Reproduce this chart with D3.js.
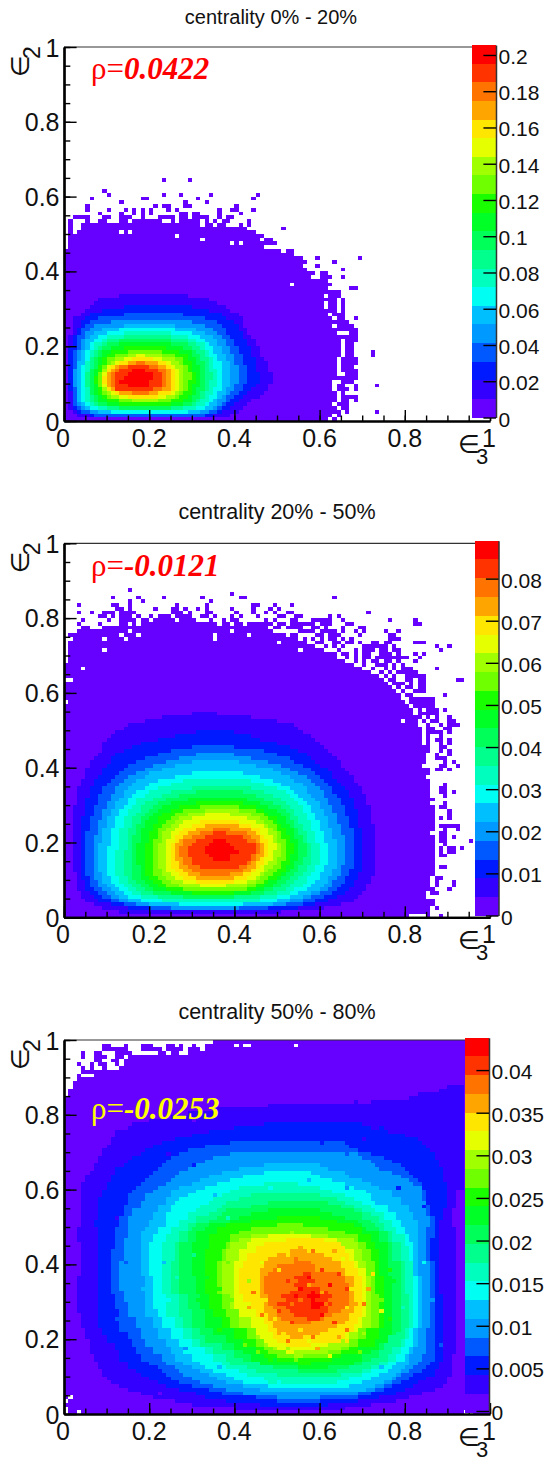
<!DOCTYPE html>
<html><head><meta charset="utf-8">
<script src="https://cdn.jsdelivr.net/npm/d3@7"></script>
<style>html,body{margin:0;padding:0;background:#fff}svg{display:block}text{font-family:"Liberation Sans",Arial,sans-serif;fill:#111}</style>
</head><body><svg id="c" width="547" height="1459"></svg>
<script>
const titles=["centrality 0% - 20%","centrality 20% - 50%","centrality 50% - 80%"];
const rhoValues=["0.0422","-0.0121","-0.0253"];
const rhoColors=["#ff0000","#ff0000","#ffff00"];
const axisTicks=[0,0.2,0.4,0.6,0.8,1];
const paletteColors=["#6600ff","#3300ff","#001aff","#0059ff","#0099ff","#00bfff","#00fff2","#00ffbf","#00ff8c","#00ff59","#00ff26","#19ff00","#70ff00","#a0ff00","#e6ff00","#ffe600","#ffa500","#ff7300","#ff3300","#ff0000"];
const barMax=[0.2055,0.089,0.0438];
const barTicks1=[0,0.02,0.04,0.06,0.08,0.1,0.12,0.14,0.16,0.18,0.2];
const barTicks2=[0,0.01,0.02,0.03,0.04,0.05,0.06,0.07,0.08];
const barTicks3=[0,0.005,0.01,0.015,0.02,0.025,0.03,0.035,0.04];
// level spans per panel: "row:left-right", each held up to the next entry's row
const panel1Spans=[
"0:0-62 7:0-63 11:0-64 25:0-62 27:0-61 30:0-60 32:0-59 33:0-60 35:0-59 36:0-57 38:0-55 39:0-54 40:0-53 42:0-52 43:0-50 44:0-49 45:0-48 46:1-47 47:1-46 48:2-44 49:2-42 50:3-39 51:5-36 52:7-30 53:",
"1:3-39 2:2-41 3:1-42 4:1-43 5:1-44 6:1-46 7:1-47 8:1-48 10:1-49 13:1-48 16:1-47 17:1-46 20:1-45 22:1-44 23:2-43 25:2-42 28:4-41 29:5-39 30:6-38 31:7-36 32:8-34 33:13-29 34:",
"1:6-35 2:3-37 3:2-39 4:2-40 5:2-41 6:2-42 7:2-43 8:1-44 9:1-45 10:1-46 13:1-45 17:1-44 20:2-43 22:2-42 23:3-42 24:3-41 25:4-41 26:4-40 27:5-38 28:6-37 29:9-34 30:14-30 31:",
"1:7-33 2:4-36 3:3-37 4:2-38 5:2-39 6:2-40 7:2-41 8:2-42 10:2-43 15:2-42 18:2-41 19:3-41 20:3-40 22:3-39 23:4-38 25:5-37 26:6-36 27:8-33 28:14-28 29:",
"2:6-34 3:4-36 4:3-37 5:3-38 7:3-39 8:3-40 9:2-40 10:2-41 14:3-41 15:3-40 18:3-39 19:4-39 20:4-38 22:5-37 23:5-36 24:6-35 25:7-33 26:11-30 27:",
"2:8-32 3:5-35 4:4-36 5:3-36 6:3-37 7:3-38 9:3-39 16:4-38 18:4-37 19:5-37 20:5-36 22:6-35 23:7-33 24:9-31 25:14-26 26:",
"2:11-29 3:6-33 4:5-34 5:4-35 6:4-36 8:4-37 15:5-37 16:5-36 18:5-35 19:6-35 20:6-34 21:7-33 22:8-32 23:10-30 24:13-26 25:",
"3:8-31 4:6-33 5:5-34 7:5-35 9:5-36 14:5-35 16:6-35 17:6-34 19:7-33 21:9-31 22:10-29 23:14-25 24:",
"3:10-28 4:7-31 5:6-32 6:6-33 8:6-34 9:5-34 11:5-35 13:6-34 17:7-33 19:8-32 20:9-31 21:10-29 22:14-25 23:",
"3:13-25 4:8-30 5:7-31 6:7-32 7:6-32 8:6-33 14:7-33 16:7-32 17:8-32 18:8-31 19:9-30 20:10-29 21:13-25 22:",
"4:10-28 5:8-30 7:7-31 9:7-32 14:8-32 15:8-31 17:9-30 19:11-28 20:13-25 21:",
"4:13-25 5:10-28 6:9-29 7:8-30 10:7-31 12:8-31 13:8-30 15:9-30 16:9-29 17:10-29 18:11-27 19:14-24 20:",
"5:13-25 6:10-27 7:9-28 8:9-29 9:8-29 11:8-30 13:9-29 15:10-28 17:12-26 18:15-23 19:",
"5:16-22 6:11-26 7:10-27 8:9-28 14:10-28 15:11-27 16:12-26 17:15-23 18:",
"6:13-24 7:11-26 8:10-27 9:9-27 13:10-27 14:10-26 15:12-25 16:14-23 17:17-19 18:",
"6:15-22 7:12-25 8:10-26 10:9-26 12:10-26 14:11-25 15:13-24 16:16-21 17:",
"7:13-22 8:11-25 9:10-25 13:11-25 14:12-24 15:15-22 16:",
"7:16-20 8:12-23 9:11-24 13:12-24 14:13-22 15:17-19 16:",
"8:12-21 9:12-23 13:13-22 14:15-20 15:",
"9:15-20 10:13-20 11:14-21 12:15-21 13:16-19 14:"];
const panel1Strays=["64:23,29","61:9","60:10,23,27,34,45","59:6,18,19,31,44","58:13,28,33","57:5,21,23,24,28,29,40","56:5,10,14,16,18,20,24,26,36,39,40,44","55:8,13,16,18,20,27,28,30,31,36,41","54:2,3,4,5,9,10,13,14,15,18,22,23,24,25,27,28,30,31,32,33,36,38,39","53:1,5,8,9,13,14,16,17,18,19,20,21,22,25,27,28,29,30,31,33,35,37,38,43","52:1,4,5,6,30,31,33,34,36,37,41,43","51:1,4,36,37,38,39,40,41,42,51","50:1,3,39,40,41,42,43,44","49:1,3,42,43,44,45,46","48:1,44,45,47,48","47:1,2,46,47,48,49","45:48,49,50,52,53","44:49,50,51,52,53","43:50,51,52,53,54,55,59,69","42:52,53,54,55,56,63","41:53,54,55,59","40:53,54,55,56,65","39:54,55,56,57,58,60,61","38:55,56,57,60,61,62,65","37:57,58,59,60,61","36:57,58,59,60,61,62","35:59,60,61,67,68","34:60,61,62,63,64","33:60,62,63,64","32:59,60,61,62,63,65","31:60,61,62,63,65","30:60,62,63,65","29:61,62,63,65","28:61,63,64,65","27:61,62,64,65,68","26:62,63,64,65,66","25:62,64,65,66,67","24:62,64,65,66,67,68","23:62,63,67,68","22:64,65,66,67,68","21:64,66,67,68","20:64,66,67","19:64,66,67","18:64,66,67,72","17:64,66,67,72","16:65,66,67,68","15:65,66,67,68","14:65,66,67","13:65,66,67,68","12:66,67,68","11:64,65,66,67,68","10:65,66,67","9:64,65,68,73","8:64,65,66,68","7:63,65","6:62,63,65,66,67,68","5:62,63,65,66,68","4:62,64,65,66","3:62,63,65,66","2:62,63,64,66,73","1:62,64","0:63"];
const panel1Holes=["36:53","50:13,15","49:26","48:32","47:39,41","31:61"];
const panel2Spans=[
"0:0-81 1:0-85 7:0-86 11:0-87 15:0-87 25:0-87 32:0-86 40:0-85 46:0-84 51:0-83 54:0-82 56:0-81 57:0-80 58:0-79 60:0-78 61:0-77 62:0-76 63:0-75 64:0-74 65:0-72 66:0-70 67:0-68 68:0-66 69:0-64 70:1-63 71:1-61 72:1-59 73:3-57 74:4-55 75:4-52 76:4-49 77:9-42 78:18-36 79:",
"1:13-51 2:9-61 3:7-65 4:5-68 5:4-69 6:4-70 7:3-71 9:3-72 11:3-73 12:2-73 25:2-72 30:3-71 33:3-70 35:4-69 36:4-68 37:5-68 38:5-67 39:5-66 40:6-65 42:7-64 43:8-63 44:9-62 45:9-61 46:9-60 47:10-59 48:11-58 49:12-56 50:14-55 51:15-54 52:19-50 53:23-44 54:30-36 55:",
"2:15-55 3:11-59 4:8-62 5:7-64 6:6-66 7:5-67 8:5-68 10:4-69 12:4-70 24:4-69 27:5-69 29:5-68 32:6-67 34:6-66 35:7-65 36:7-64 37:8-63 38:9-63 39:9-62 40:10-60 41:11-59 42:11-58 43:12-57 44:14-55 45:16-53 46:18-50 47:22-46 48:26-44 49:31-40 50:",
"2:20-48 3:14-56 4:11-59 5:9-61 6:8-63 7:7-64 8:6-65 9:6-66 11:5-67 13:5-68 23:6-68 24:6-67 27:7-66 30:8-65 32:8-64 33:9-63 35:10-62 36:11-61 37:12-60 38:13-59 39:14-58 40:15-56 41:17-54 42:19-53 43:22-50 44:25-47 45:30-40 46:",
"2:25-41 3:17-52 4:13-56 5:11-58 6:10-60 7:9-62 8:8-63 10:7-64 11:7-65 14:7-66 22:8-65 25:8-64 26:9-64 28:9-63 29:10-63 30:10-62 31:11-62 32:11-61 33:12-61 34:12-60 35:13-59 36:14-58 37:15-57 38:17-55 39:19-53 40:21-51 41:24-48 42:27-44 43:31-40 44:",
"3:20-49 4:15-53 5:13-56 6:12-58 7:11-60 8:10-61 9:9-62 11:9-63 12:8-63 13:8-64 20:9-64 21:9-63 24:10-62 27:11-61 29:12-60 31:13-59 32:14-58 33:14-57 34:15-57 35:16-56 36:17-54 37:19-53 38:20-51 39:23-49 40:26-45 41:30-41 42:",
"3:27-42 4:18-50 5:15-53 6:14-55 7:13-57 8:12-58 9:11-59 10:11-60 11:10-60 12:10-61 14:10-62 19:11-62 20:11-61 23:11-60 24:12-60 26:12-59 27:13-59 28:13-58 29:14-58 30:15-57 31:15-56 32:16-55 33:17-54 34:19-53 35:20-51 36:22-49 37:26-46 38:30-42 39:",
"4:23-46 5:18-50 6:16-53 7:15-54 8:14-56 9:13-57 11:12-58 12:12-59 14:12-60 18:13-60 20:13-59 23:13-58 24:14-58 26:14-57 27:15-57 28:15-56 29:16-56 30:17-55 31:17-54 32:19-53 33:20-52 34:22-50 35:25-47 36:28-44 37:",
"5:22-46 6:18-50 7:17-52 8:16-53 9:15-54 10:15-55 11:14-56 12:14-57 14:14-58 18:15-58 20:15-57 23:15-56 24:16-56 25:16-55 27:17-54 28:18-54 29:18-53 30:19-52 31:21-51 32:23-49 33:25-47 34:30-44 35:",
"5:28-40 6:21-47 7:19-49 8:18-51 9:17-52 10:16-53 11:16-54 12:16-55 14:16-56 16:16-57 20:16-56 22:17-55 24:17-54 25:18-54 26:18-53 27:19-53 28:20-52 29:21-51 30:22-49 31:24-47 32:27-45 33:31-42 34:",
"6:25-44 7:21-47 8:20-49 9:19-50 10:18-51 11:18-52 12:18-53 13:18-54 14:17-54 15:17-55 20:18-55 21:18-54 24:19-53 25:19-52 26:20-52 27:21-51 28:22-50 29:23-48 30:25-46 31:29-43 32:",
"6:30-40 7:24-45 8:22-47 9:21-48 10:20-50 11:19-51 12:19-52 14:19-53 17:19-54 20:20-53 22:20-52 23:21-52 24:21-51 25:22-50 27:23-48 28:25-47 29:27-45 30:31-42 31:",
"7:28-43 8:24-45 9:23-47 10:22-48 11:21-49 12:21-50 13:21-51 15:21-52 21:22-51 23:22-50 24:23-50 25:24-49 26:25-48 27:26-47 28:28-45 29:32-41 30:",
"8:27-43 9:25-45 10:24-46 11:23-47 12:23-48 13:22-49 14:22-50 16:22-51 20:23-50 23:24-49 24:25-48 25:26-47 26:27-46 27:29-44 28:33-41 29:",
"8:32-38 9:28-43 10:26-45 11:25-46 12:24-47 14:24-48 15:24-49 18:24-50 20:24-49 21:25-49 22:25-48 23:26-48 24:27-47 25:28-45 26:30-43 27:33-39 28:",
"9:31-40 10:28-43 11:27-44 12:26-45 13:25-46 14:25-47 16:25-48 20:26-48 21:26-47 22:27-46 23:28-46 24:30-44 25:32-41 26:",
"10:31-40 11:29-42 12:28-44 13:27-45 15:26-46 16:26-47 20:27-46 21:28-46 22:29-45 23:31-44 24:33-41 25:",
"11:32-39 12:30-42 13:29-43 14:28-44 15:28-45 16:27-45 17:27-46 19:28-46 20:28-45 21:30-44 22:32-43 23:35-39 24:",
"13:32-41 14:30-43 15:30-44 16:29-44 17:29-45 19:30-45 20:31-43 21:33-42 22:35-38 23:",
"15:35-39 16:34-39 17:33-41 18:33-40 19:34-39 20:35-38 21:"];
const panel2Strays=["87:15","86:39","85:11,17,23,32,41,42,63","84:15,18,34","83:3,11,12,15,26,33,44,45,49,53","82:12,13,15,21,25,26,28,31,33,39,44,48,50","81:3,6,9,10,11,13,14,15,16,25,26,27,29,33,34,40,44,47,49,52,53,71","80:8,9,11,13,14,15,17,20,22,23,24,26,27,28,29,32,33,35,39,41,45,50,51,54,55,62,64","79:4,10,13,14,15,16,18,19,21,22,23,24,25,27,28,29,30,34,37,39,40,47,49,53,54,58,59,60,61,62,65,76,82","78:3,8,13,14,16,37,38,40,41,43,44,45,46,47,48,50,51,53,54,55,56,57,58,60,61,62,66,67,82,83","77:4,5,11,12,13,14,15,16,42,43,44,45,46,47,49,50,52,53,54,55,58,59,61,65,69,70","76:3,4,55,56,57,58,60,61,62,63,65,68,70,75,78","75:1,2,3,4,53,54,59,60,62,63,64,69,76,77","74:2,3,56,58,60,62,63,65,67,76,77,78","73:1,2,59,60,63,64,66,67,69,72,73,75,76,82,83,84","72:61,63,65,70,71,72,73,74,75,77,87,90","71:64,68,70,71,72,74,75,77,78,88","70:62,63,65,66,68,70,71,74,75,76,78,82,84","69:66,68,70,71,73,74,75,76,77,78,79,80,83","68:68,70,72,73,75,76,78,82","67:70,73,74,75,77,79","66:72,75,77,79,80,81,87","65:74,76,78,79,80,81,82","64:75,77,80,81,82,83,84","63:76,77,80,81,83,84,92,93","62:77,78,79,81,83,84","61:78,80,81,83,84","60:79,82,83,84","59:80,81,89","58:81,82,83,84,85,86","57:81,82,83,84,85,86","56:82,83,84,85,86","55:83,85,86,87,89","54:83,84,85,86,87","53:83,85,87,90","52:84,86,87,90,91","51:85,88,90,91,92","50:85,86,89,90","49:85,86,87,88,90","48:85,88","47:85,87,88,90","46:85,88,90","45:85,88,89","44:85,88,90","43:87,90","42:87,88,89","41:89,91","40:88,89,92","39:87,88,90","35:89","34:88,89","33:88,89,91","32:89","30:89","29:88,89","28:90","27:90","26:88,90","24:88,89,90,91,92","23:89,92","22:88,89","21:88,89,91","20:88,89,95","19:89","18:88,90,91,93","17:88,90,91","16:88,89","13:88,89","10:87,88","9:87,91","8:87,91","7:86,90","6:86,87","4:85,86","3:85,86","2:85,87","1:85","0:85,88"];
const panel2Holes=["76:15,39","75:13,17,35,43","74:9,14,35","73:50","71:9,55","70:0","69:0","68:0","66:4","63:0,1","57:0","52:79","40:84","37:85","30:86","22:86"];
const panel3Spans=[
"0:0-100 85:1-100 87:2-100 89:3-100 90:7-100 91:4-100 92:13-100 93:14-100 95:15-100 96:29-100 97:33-100 99:35-100 100:",
"1:40-66 2:30-72 3:26-78 4:21-81 5:18-84 6:15-87 7:13-89 8:11-90 9:10-90 10:9-91 12:8-91 14:7-91 16:6-92 20:5-92 23:4-92 27:3-92 37:4-92 46:3-92 50:4-91 55:4-92 60:4-94 62:5-94 64:6-94 65:7-94 67:8-94 69:9-94 71:10-94 72:11-94 74:12-94 76:15-94 77:16-94 78:20-94 79:25-94 80:29-94 81:35-94 82:48-94 83:72-94 84:81-94 85:83-94 86:88-94 87:90-94 88:",
"2:46-62 3:38-69 4:33-74 5:31-78 6:27-80 7:24-82 8:22-83 9:20-85 10:18-87 11:17-87 12:15-88 14:13-89 17:12-89 19:10-89 21:9-89 23:8-89 32:8-88 50:7-88 52:8-89 55:8-90 58:9-90 60:10-90 62:11-89 64:12-89 66:14-88 67:15-88 68:16-87 69:18-87 70:19-86 71:21-85 72:23-84 73:26-83 74:30-80 75:34-76 76:40-72 77:47-70 78:",
"3:50-60 4:45-69 5:37-72 6:34-75 7:30-77 8:27-79 9:25-81 10:24-82 11:23-84 12:22-85 13:20-86 14:18-87 16:17-87 18:16-87 20:15-87 22:13-87 28:12-87 32:11-87 41:11-86 44:12-86 47:12-87 50:13-87 53:14-86 56:15-85 59:16-85 60:17-84 61:18-84 62:19-83 63:20-82 64:21-81 65:22-80 66:23-79 67:24-77 68:25-75 69:27-72 70:29-69 71:33-67 72:39-66 73:",
"4:50-60 5:42-69 6:38-73 7:35-75 8:32-77 9:30-78 10:28-79 11:27-81 12:26-82 13:24-83 14:23-84 16:21-85 18:19-85 20:18-85 23:17-86 26:15-86 30:14-86 33:13-86 41:14-85 47:15-85 50:15-86 53:16-85 55:18-85 57:19-84 59:21-84 60:22-84 61:24-82 62:25-81 63:26-79 64:27-77 65:29-74 66:31-73 67:33-72 68:35-70 69:39-69 70:",
"6:46-71 7:42-73 8:38-75 9:36-77 10:34-78 11:32-79 12:30-80 13:28-81 14:26-81 16:25-82 18:24-83 20:22-83 23:21-84 26:19-84 37:18-83 49:19-83 50:20-83 52:21-82 54:22-81 56:24-79 58:25-77 60:27-74 61:30-72 62:32-70 63:34-67 64:37-66 65:41-62 66:47-60 67:",
"7:48-67 8:42-70 9:40-72 10:38-74 11:35-76 12:33-77 13:32-78 14:30-80 16:28-81 18:27-82 20:25-82 23:23-83 26:22-83 28:21-83 37:20-82 46:21-81 48:22-80 50:24-79 52:24-78 54:25-76 56:26-73 57:27-72 58:29-72 59:31-71 60:33-68 61:36-66 62:39-63 63:42-60 64:47-58 65:",
"8:48-64 9:47-67 10:43-70 11:41-72 12:38-75 13:37-76 14:35-78 16:33-79 18:30-80 20:28-81 23:26-82 26:24-82 32:23-82 41:23-81 46:24-80 48:25-78 50:27-77 52:29-75 54:31-73 55:32-72 56:34-70 57:35-68 58:37-66 59:39-63 60:41-60 61:47-55 62:",
"10:50-65 11:45-70 12:43-72 13:39-74 14:38-76 16:35-77 18:32-79 20:30-80 23:28-81 26:27-81 32:25-80 41:26-79 46:27-77 49:29-75 51:31-74 53:34-72 54:36-70 55:37-68 56:38-66 57:41-64 58:44-60 59:",
"11:55-64 12:49-67 13:46-70 14:42-72 15:40-74 17:37-75 19:33-76 21:32-78 23:30-79 28:29-79 32:27-79 41:27-77 46:29-76 49:30-74 50:31-73 51:34-72 52:36-71 53:37-70 54:38-68 55:44-65 56:48-62 57:",
"12:55-62 13:46-68 14:44-70 16:42-72 17:40-74 19:38-76 21:35-77 23:33-77 28:32-77 32:31-77 37:30-76 46:31-74 49:33-71 50:34-70 51:39-69 52:41-66 53:44-63 54:48-60 55:",
"13:55-58 14:50-63 15:47-65 16:45-69 18:42-73 20:40-74 23:37-75 26:35-75 28:34-75 32:33-75 37:33-74 44:34-73 46:34-72 48:36-70 50:38-68 51:44-64 52:50-60 53:",
"14:54-55 15:50-62 16:48-65 17:47-67 18:45-69 20:43-71 23:39-74 26:38-74 28:37-74 32:36-73 41:37-72 44:38-71 46:39-69 48:41-66 49:44-62 50:50-56 51:",
"15:54-56 16:52-62 17:49-65 18:47-67 20:45-69 23:41-72 28:39-72 32:37-72 37:37-71 41:38-70 44:39-69 46:41-68 47:44-62 48:",
"16:52-54 17:50-60 18:48-62 19:47-65 20:46-67 22:45-69 23:44-70 26:41-71 28:40-71 39:40-69 41:41-68 44:43-65 46:44-64 47:48-58 48:",
"18:52-58 19:50-65 20:49-66 22:48-68 24:47-69 26:45-70 28:44-70 30:42-70 32:41-70 37:41-69 39:42-68 41:43-67 43:45-66 45:47-65 46:52-60 47:",
"20:53-56 21:52-60 22:50-62 23:49-64 24:49-66 25:48-67 27:47-68 29:47-69 31:46-68 37:46-66 39:47-65 41:48-63 42:50-60 43:53-57 44:",
"24:53-58 25:51-61 26:50-63 27:50-65 28:49-66 29:48-67 32:47-67 35:47-66 37:48-65 38:50-59 40:54-58 41:",
"25:56-60 26:54-61 27:53-62 28:52-62 29:50-63 30:52-62 31:51-63 32:53-62 33:55-60 34:54-58 35:55-59 36:54-57 37:56-58 38:",
"28:58-60 29:58-61 30:58-59 31:57-60 32:58-59 33:"];
const panel3Strays=["98:9,10,14,18,19,20,24,25,27,30","97:9,10,11,12,13,14,18,19,20,21,22,24,25,26,27,29,30,31","96:4,7,8,12,13,14,15,22,23,25,26","95:4,7,8,9,12,13","94:7,8,11,12","93:3,6,8,9,12","92:4,6,9","90:3"];
const panel3Holes=["98:40,42,43,54","4:1","3:0","1:0","0:0,3,94,95"];
const panel3Speckle=["55,33,20","60,26,20","54,31,20","62,34,20","57,36,20","52,35,19","56,37,19","60,38,19","50,27,19","63,24,19","66,33,19","53,24,19","64,37,19","54,41,18","58,43,18","49,38,18","44,32,18","46,26,18","70,29,18","66,22,18","58,20,18","52,19,18","55,44,17","49,41,17","43,28,17","71,33,17","63,43,17","59,17,17","50,21,17","47,44,16","60,46,16","42,37,16","72,37,16","66,19,16","45,21,15","62,15,15","40,30,15","74,27,15","53,48,14","66,47,13","38,40,13","48,14,12","69,16,13","76,38,12","36,22,12","31,30,11","44,53,11","62,55,10","78,22,10","30,42,9","70,52,9","55,59,8","26,24,8","84,40,7","48,60,7","60,63,6","35,58,6","18,33,6","86,30,5","44,67,5","66,69,4","14,40,4","88,18,4","30,66,3","50,76,3","74,76,3","9,30,3","16,12,3","12,52,2","68,83,2","30,78,1","22,5,1","55,30,18","57,34,17","61,29,18","60,32,17","53,29,18","56,25,18","59,36,18","50,38,16","66,28,16","47,30,16","67,33,16","52,42,16","62,22,16","55,22,16","49,25,16","60,42,17","68,30,16","64,20,17","39,30,13","36,33,12","34,26,11","33,36,11","42,18,13","45,16,13","70,21,14","74,30,13","77,35,11","76,25,12","60,50,12","50,52,12","45,47,14","67,45,14","41,40,15","43,35,14","46,40,15","69,38,15","65,41,15","57,19,15","52,17,14","63,18,14","24,30,7","26,36,8","23,40,6","79,28,8","82,33,7","80,45,7","38,52,8","44,57,9","57,62,6","66,60,5","28,17,5","36,12,6","50,8,7","62,9,8","74,12,6","12,25,4","12,44,4","17,55,4","78,60,3","84,55,3","24,69,2","60,72,3","70,73,2"];
const panelTop=[47,543.3,1040];
const barBox=[[472,496,45,417.5],[474.5,498.5,540.7,916],[465,489,1037.7,1412.7]];
const barTickZero=[417.5,915.5,1411];
const titleX=[271,277,277];
const titleY=[24,519,1019];
const titleSize=[20,21.5,21.5];
const plotLeft=64,plotRight=490,plotHeight=374;

const svg=d3.select("#c");
const xS=d3.scaleLinear().domain([0,1]).range([plotLeft,plotRight]);
function parseRows(list,fn){list.forEach(s=>{const [r,v]=s.split(":");v.split(",").forEach(x=>fn(+r,+x));});}
function makeGrid(spans,strays,holes,speckle){
  const g=d3.range(100).map(()=>new Array(100).fill(0));
  spans.forEach((s,i)=>{
    const e=s.split(" ").map(t=>{const [r,v]=t.split(":");const [a,b]=v?v.split("-").map(Number):[0,0];return {r:+r,a,b};});
    for(let k=0;k<e.length-1;k++)for(let r=e[k].r;r<e[k+1].r;r++)for(let c=e[k].a;c<e[k].b;c++)g[r][c]=i+1;
  });
  parseRows(strays,(r,x)=>{g[r][x]=1;});
  parseRows(holes,(r,x)=>{g[r][x]=0;});
  speckle.forEach(s=>{const [x,y,l]=s.split(",").map(Number);g[y][x]=l;});
  return g;
}
const grids=[makeGrid(panel1Spans,panel1Strays,panel1Holes,[]),makeGrid(panel2Spans,panel2Strays,panel2Holes,[]),makeGrid(panel3Spans,panel3Strays,panel3Holes,panel3Speckle)];
const allBarTicks=[barTicks1,barTicks2,barTicks3];
const fmt=d=>String(+d.toFixed(4));
grids.forEach((grid,i)=>{
  const top=panelTop[i],bottom=top+plotHeight;
  const yS=d3.scaleLinear().domain([0,1]).range([bottom,top]);
  const g=svg.append("g");
  const runs=[];
  grid.forEach((row,r)=>{let c=0;while(c<100){const l=row[c];let e=c+1;while(e<100&&row[e]===l)e++;if(l>0)runs.push({r,c,e,l});c=e;}});
  g.append("g").attr("shape-rendering","crispEdges").selectAll("rect").data(runs).join("rect")
    .attr("x",d=>xS(d.c/100)).attr("width",d=>xS(d.e/100)-xS(d.c/100))
    .attr("y",d=>yS((d.r+1)/100)).attr("height",d=>yS(d.r/100)-yS((d.r+1)/100))
    .attr("fill",d=>paletteColors[d.l-1]);
  g.append("line").attr("x1",plotLeft).attr("x2",plotRight).attr("y1",top).attr("y2",top).attr("stroke","#333").attr("stroke-width",1.2);
  const minor=d3.range(0,21).map(d=>d/20);
  const ax=(axis,sel)=>{sel.call(axis);sel.selectAll("path").attr("stroke","#000").attr("stroke-width",2.2);sel.selectAll("line").attr("stroke","#000").attr("stroke-width",1.4);sel.selectAll("text").remove();};
  ax(d3.axisBottom(xS).tickValues(minor).tickSize(-5.5).tickSizeOuter(0),g.append("g").attr("transform",`translate(0,${bottom})`));
  ax(d3.axisBottom(xS).tickValues(axisTicks).tickSize(-11).tickSizeOuter(0),g.append("g").attr("transform",`translate(0,${bottom})`));
  ax(d3.axisLeft(yS).tickValues(minor).tickSize(-6.3).tickSizeOuter(0),g.append("g").attr("transform",`translate(${plotLeft},0)`));
  ax(d3.axisLeft(yS).tickValues(axisTicks).tickSize(-12.6).tickSizeOuter(0),g.append("g").attr("transform",`translate(${plotLeft},0)`));
  axisTicks.forEach(t=>{
    g.append("text").text(fmt(t)).attr("x",xS(t)-(t===0?1:t===1?1:0)).attr("y",bottom+25.5).attr("text-anchor","middle").attr("font-size",25);
    g.append("text").text(fmt(t)).attr("x",plotLeft-4.5).attr("y",yS(t)+(t===1?10:t===0?10:9)).attr("text-anchor","end").attr("font-size",25);
  });
  const [bx0,bx1,by0,by1]=barBox[i];
  const bS=d3.scaleLinear().domain([0,barMax[i]]).range([by1,by0]);
  const step=barMax[i]/20;
  g.append("g").attr("shape-rendering","crispEdges").selectAll("rect").data(paletteColors).join("rect")
    .attr("x",bx0).attr("width",bx1-bx0).attr("y",(d,k)=>bS((k+1)*step)).attr("height",(d,k)=>bS(k*step)-bS((k+1)*step)).attr("fill",d=>d);
  const tS=d3.scaleLinear().domain([0,barMax[i]]).range([barTickZero[i],by0]);
  const bAxis=g.append("g").attr("transform",`translate(${bx1},0)`).call(d3.axisLeft(tS).tickValues(allBarTicks[i]).tickSize(-12.6).tickSizeOuter(0));
  bAxis.selectAll("line").attr("stroke","#000").attr("stroke-width",1.4).attr("x2",-12.6);
  bAxis.selectAll("path").attr("stroke","#333").attr("stroke-width",1.5);
  bAxis.selectAll("text").remove();
  allBarTicks[i].forEach(t=>{
    g.append("text").text(fmt(t)).attr("x",bx1+2.5).attr("y",tS(t)+9).attr("font-size",21);
  });
  g.append("text").text(titles[i]).attr("x",titleX[i]).attr("y",titleY[i]).attr("text-anchor","middle").attr("font-size",titleSize[i]);
  const rho=g.append("text").attr("x",91).attr("y",[78.5,576,1119][i]).attr("font-size",31).attr("style",`font-family:'Liberation Serif',serif;fill:${rhoColors[i]}`);
  rho.append("tspan").text("ρ=");
  rho.append("tspan").attr("font-weight","bold").attr("font-style","italic").text(rhoValues[i]);
  g.append("text").text("∈").attr("x",458).attr("y",bottom+32).attr("font-size",25).attr("style","font-family:'DejaVu Sans';fill:#111");
  g.append("text").text("3").attr("x",476).attr("y",bottom+43).attr("font-size",22);
  const yl=g.append("g").attr("transform",`translate(29,${top+30}) rotate(-90)`);
  yl.append("text").text("∈").attr("x",0).attr("y",0).attr("font-size",25).attr("style","font-family:'DejaVu Sans';fill:#111");
  yl.append("text").text("2").attr("x",18).attr("y",11).attr("font-size",23);
});
</script></body></html>
